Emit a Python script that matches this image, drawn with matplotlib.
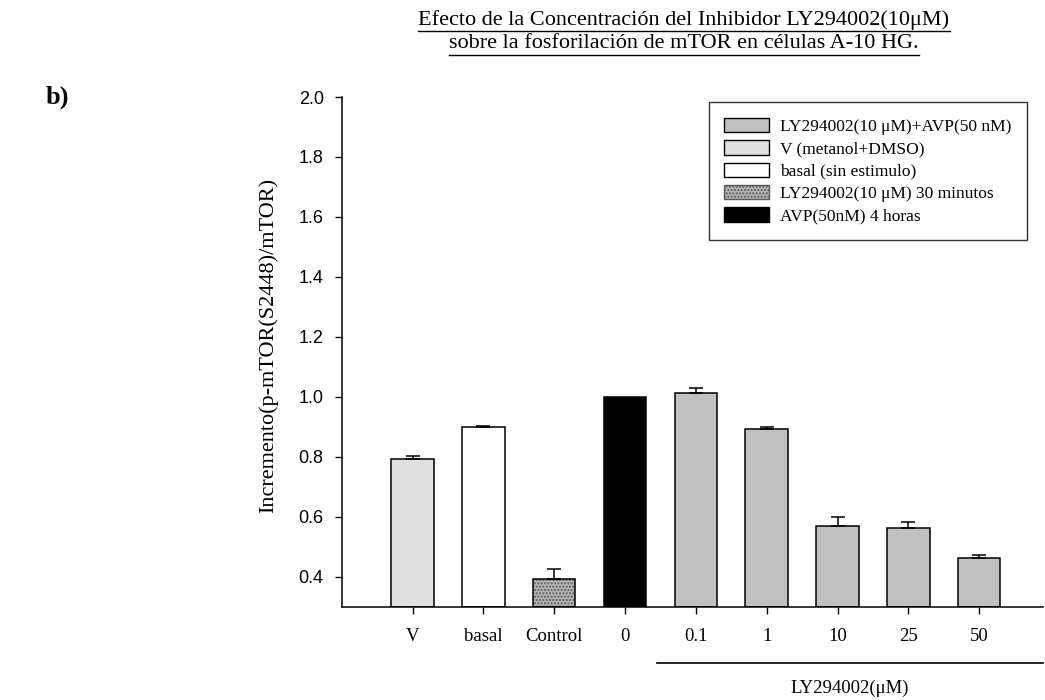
import matplotlib
matplotlib.use("Agg")
import matplotlib.pyplot as plt
from matplotlib.patches import Patch
from matplotlib.lines import Line2D

categories = ["V", "basal", "Control", "0", "0.1", "1", "10", "25", "50"]
values = [0.792, 0.900, 0.392, 1.000, 1.014, 0.894, 0.570, 0.561, 0.464]
errors = [0.009, 0.004, 0.035, 0.0, 0.015, 0.004, 0.029, 0.022, 0.010]
groups = ["V", "basal", "ctrl", "avp", "ly", "ly", "ly", "ly", "ly"]

legend_labels = ["LY294002(10 \u03bcM)+AVP(50 nM)", "V (metanol+DMSO)",
                 "basal (sin estimulo)", "LY294002(10 \u03bcM) 30 minutos",
                 "AVP(50nM) 4 horas"]

colors = {"V": "#e0e0e0", "basal": "#ffffff", "ctrl": "#b4b4b4",
          "avp": "#000000", "ly": "#c0c0c0"}

serif = ["Liberation Serif", "DejaVu Serif"]
sans = ["Liberation Sans", "DejaVu Sans"]

W, H = 1045, 700
fig = plt.figure(figsize=(W / 100, H / 100), dpi=100)
ax = fig.add_axes([0.327, 0.1333, 0.671, 0.7281])

x = list(range(len(categories)))
ybot = 0.3
for i, (v, e, g) in enumerate(zip(values, errors, groups)):
    if g == "ctrl":
        ax.bar(i, v - ybot, bottom=ybot, width=0.6, color=colors[g],
               edgecolor="#5a5a5a", hatch=".....", linewidth=0, zorder=2)
        ax.bar(i, v - ybot, bottom=ybot, width=0.6, fill=False,
               edgecolor="black", linewidth=1.1, zorder=3)
    else:
        ax.bar(i, v - ybot, bottom=ybot, width=0.6, color=colors[g],
               edgecolor="black", linewidth=1.1, zorder=2)
    if e > 0:
        ax.errorbar(i, v, yerr=[[0], [e]], fmt="none", ecolor="black",
                    elinewidth=1.1, capsize=5, capthick=1.1, zorder=4)

ax.set_xlim(-1, 8.9)
ax.set_ylim(ybot, 2.0)
ax.set_yticks([0.4, 0.6, 0.8, 1.0, 1.2, 1.4, 1.6, 1.8, 2.0])
ax.set_yticklabels(["%.1f" % t for t in ax.get_yticks()], family=sans, fontsize=13)
ax.set_xticks(x)
ax.set_xticklabels(categories, family=serif, fontsize=13.5)
ax.tick_params(axis="both", direction="out", length=5, width=1.0, color="black")
ax.tick_params(axis="x", pad=10)
ax.tick_params(axis="y", pad=8)
for s in ["top", "right"]:
    ax.spines[s].set_visible(False)
for s in ["left", "bottom"]:
    ax.spines[s].set_linewidth(1.1)

# legend
handles = [Patch(facecolor=colors["ly"], edgecolor="black", linewidth=1.0),
           Patch(facecolor=colors["V"], edgecolor="black", linewidth=1.0),
           Patch(facecolor=colors["basal"], edgecolor="black", linewidth=1.0),
           Patch(facecolor=colors["ctrl"], edgecolor="#5a5a5a", hatch=".....", linewidth=1.0),
           Patch(facecolor=colors["avp"], edgecolor="black", linewidth=1.0)]
leg = ax.legend(handles, legend_labels, loc="upper right",
                bbox_to_anchor=(0.977, 0.990), prop={"family": serif, "size": 12.5},
                frameon=True, fancybox=False, edgecolor="black",
                handlelength=2.6, handleheight=0.9, labelspacing=0.3,
                borderpad=0.9, handletextpad=0.6, borderaxespad=0)
leg.get_frame().set_linewidth(1.0)

# bracket under LY concentrations
ax.add_line(Line2D([3.45, 8.9], [-0.11, -0.11], transform=ax.get_xaxis_transform(),
                   color="black", linewidth=1.2, clip_on=False))
fig.text(850 / W, 1 - 688 / H, "LY294002(\u03bcM)", family=serif, fontsize=13.5,
         ha="center", va="center")

# y label
fig.text(268 / W, 1 - 345 / H, "Incremento(p-mTOR(S2448)/mTOR)", family=serif,
         fontsize=16, rotation=90, ha="center", va="center")

# title (underlined)
title_lines = ["Efecto de la Concentraci\u00f3n del Inhibidor LY294002(10\u03bcM)",
               "sobre la fosforilaci\u00f3n de mTOR en c\u00e9lulas A-10 HG."]
ys = [20, 44]
texts = []
for t, yy in zip(title_lines, ys):
    texts.append(fig.text(684 / W, 1 - yy / H, t, family=serif, fontsize=16,
                          ha="center", va="center"))
fig.canvas.draw()
r = fig.canvas.get_renderer()
for tx, yy in zip(texts, ys):
    bb = tx.get_window_extent(r)
    x0, x1 = bb.x0 / W, bb.x1 / W
    yl = 1 - (yy + 11) / H
    fig.add_artist(Line2D([x0, x1], [yl, yl], transform=fig.transFigure,
                          color="black", linewidth=1.0))

fig.text(57 / W, 1 - 97 / H, "b)", family=serif, fontsize=19,
         fontweight="bold", ha="center", va="center")

fig.savefig("out.png", dpi=100)
